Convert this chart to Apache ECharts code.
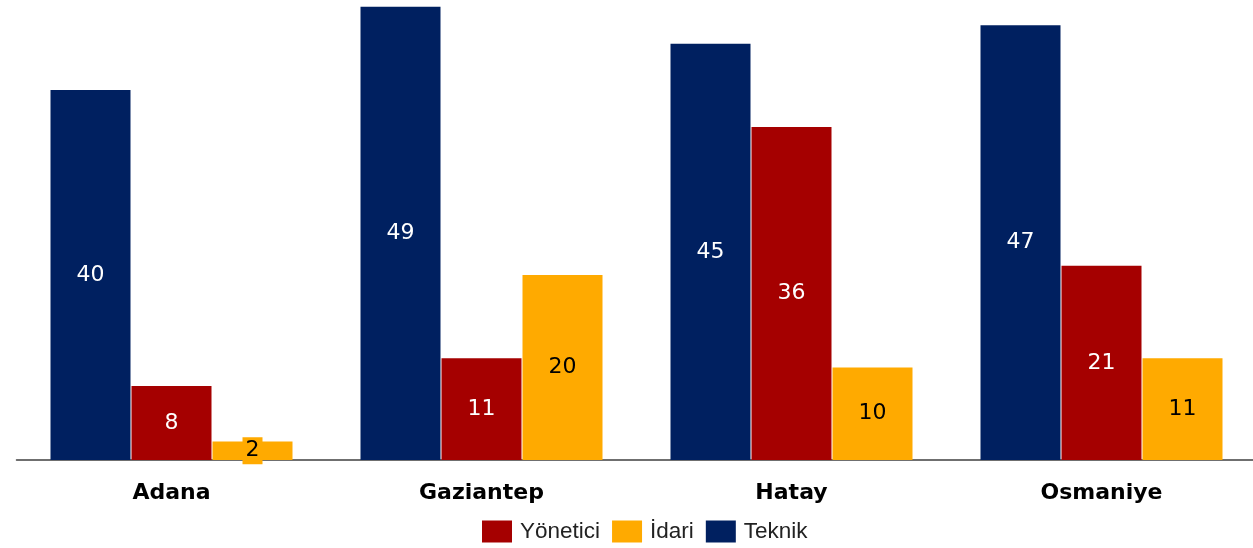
<!DOCTYPE html>
<html>
<head>
<meta charset="utf-8">
<script src="https://cdn.jsdelivr.net/npm/echarts@6/dist/echarts.min.js"></script>
<style>
html, body { margin: 0; padding: 0; background: #fff; }
#main { width: 1253px; height: 548px; }
</style>
</head>
<body>
<div id="main"></div>
<script>
// veriler
var categories = ['Adana', 'Gaziantep', 'Hatay', 'Osmaniye'];
var teknik = [40, 49, 45, 47];
var yonetici = [8, 11, 36, 21];
var idari = [2, 20, 10, 11];
var legendNames = ['Yönetici', 'İdari', 'Teknik'];

var myChart = echarts.init(document.getElementById('main'));

function labelStyle(color, bg) {
	var l = {
		show: true,
		position: 'inside',
		color: color,
		fontFamily: 'DejaVu Sans',
		fontSize: 22
	};
	if (bg) {
		l.backgroundColor = bg;
		l.padding = [3, 3, 2, 3];
	}
	return l;
}

var option = {
	animation: false,
	grid: {
		left: 16.5,
		width: 1240,
		top: 2,
		bottom: 88,
		outerBoundsMode: 'none'
	},
	legend: {
		bottom: 0,
		left: 477,
		icon: 'rect',
		itemWidth: 30,
		itemHeight: 22,
		itemGap: 12,
		textStyle: {
			fontFamily: 'Liberation Sans',
			fontSize: 22.5,
			color: '#222',
			padding: [0, 0, 0, 3]
		},
		data: legendNames
	},
	xAxis: {
		type: 'category',
		data: categories,
		axisTick: { show: false },
		axisLine: { lineStyle: { color: '#404040', width: 1.5 } },
		axisLabel: {
			margin: 22,
			color: '#000',
			fontFamily: 'DejaVu Sans',
			fontWeight: 'bold',
			fontSize: 22
		}
	},
	yAxis: {
		type: 'value',
		min: 0,
		max: 49.5,
		show: false,
		splitLine: { show: false }
	},
	series: [{
			name: 'Teknik',
			type: 'bar',
			barWidth: 80,
			barGap: '1.25%',
			itemStyle: { color: '#002060' },
			label: labelStyle('#fff'),
			data: teknik
		},
		{
			name: 'Yönetici',
			type: 'bar',
			barWidth: 80,
			barGap: '1.25%',
			itemStyle: { color: '#A50000' },
			label: labelStyle('#fff'),
			data: yonetici
		},
		{
			name: 'İdari',
			type: 'bar',
			barWidth: 80,
			barGap: '1.25%',
			itemStyle: { color: '#FFAA00' },
			label: labelStyle('#000', '#FFAA00'),
			data: idari
		}
	]
};

myChart.setOption(option);
</script>
</body>
</html>
